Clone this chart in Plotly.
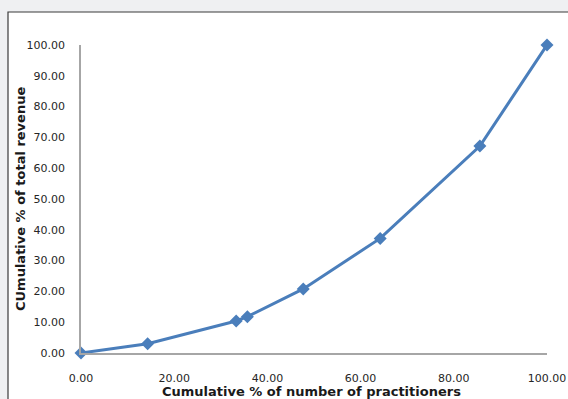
import plotly.graph_objects as go

cum_practitioners = [0.0, 14.3, 33.3, 35.7, 47.7, 64.2, 85.6, 100.0]
cum_revenue = [0.0, 3.0, 10.4, 11.8, 20.8, 37.2, 67.2, 100.0]
x_ticks = [0, 20, 40, 60, 80, 100]
y_ticks = [0, 10, 20, 30, 40, 50, 60, 70, 80, 90, 100]
x_title = "Cumulative % of number of practitioners"
y_title = "CUmulative % of total revenue"

W, H = 568, 399
L, R, T, B = 81, 21, 45, 46
pw, ph = W - L - R, H - T - B

def px_x(p):
    return (p - L) / pw

def px_y(p):
    return 1 - (p - T) / ph

fig = go.Figure()
fig.add_trace(go.Scatter(
    x=cum_practitioners, y=cum_revenue, mode="lines+markers",
    line=dict(color="#4a7ebb", width=3),
    marker=dict(symbol="diamond", size=10, color="#4a7ebb"),
    cliponaxis=False, showlegend=False,
))

fig.update_layout(
    width=W, height=H,
    margin=dict(l=L, r=R, t=T, b=B, autoexpand=False),
    paper_bgcolor="#eff0f2",
    plot_bgcolor="white",
    font=dict(family="DejaVu Sans, sans-serif", size=11, color="#262626"),
    shapes=[dict(type="rect", xref="paper", yref="paper",
                 x0=px_x(8), x1=px_x(W + 10), y0=px_y(H + 10), y1=px_y(12),
                 fillcolor="white", line=dict(color="#3a3a3a", width=1.2), layer="below")],
    annotations=[
        dict(text="<b>" + x_title + "</b>", xref="paper", yref="paper",
             x=px_x(311), y=px_y(391.5), xanchor="center", yanchor="middle",
             showarrow=False, font=dict(size=13, color="#1a1a1a")),
        dict(text="<b>" + y_title + "</b>", xref="paper", yref="paper",
             x=px_x(20), y=px_y(199), xanchor="center", yanchor="middle",
             textangle=-90, showarrow=False, font=dict(size=13, color="#1a1a1a")),
    ],
)
fig.update_xaxes(
    range=[0, 100], tickvals=x_ticks, tickformat=".2f", automargin=False,
    showgrid=False, zeroline=False, showline=True, linecolor="#a6a6a6", linewidth=1.5,
    ticks="", ticklabelstandoff=14,
)
fig.update_yaxes(
    range=[0, 100], tickvals=y_ticks, tickformat=".2f", automargin=False,
    showgrid=False, zeroline=False, showline=True, linecolor="#a6a6a6", linewidth=1.5,
    ticks="", ticklabelstandoff=12,
)
fig.write_html("out.html", config={"displayModeBar": False},
               post_script="document.body.style.margin='0';document.body.style.overflow='hidden';")
